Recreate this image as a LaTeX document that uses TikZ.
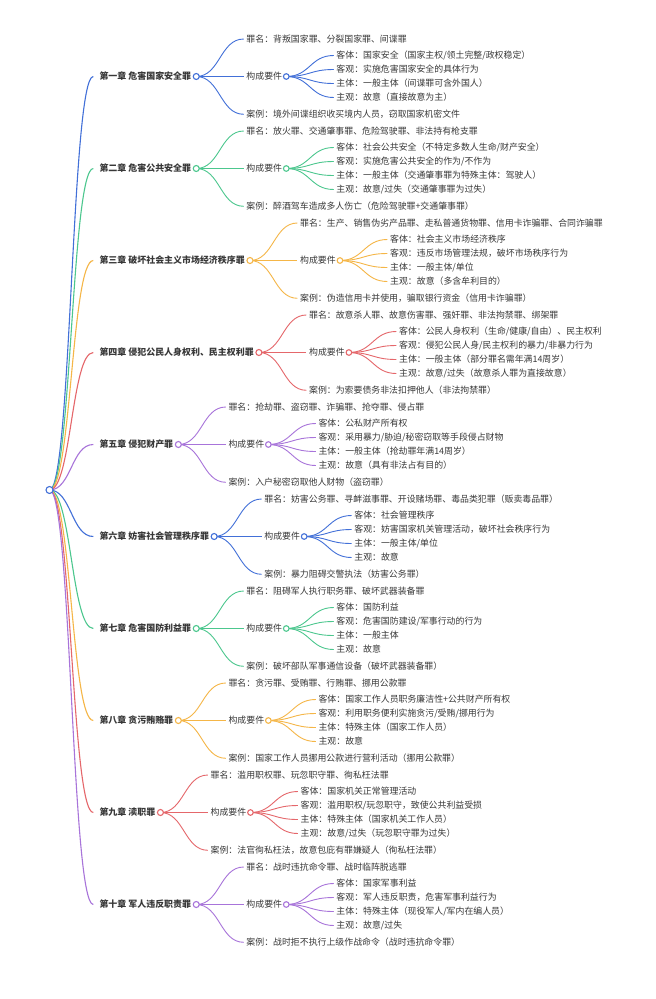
\documentclass[tikz,border=0pt]{standalone}
\usepackage{fontspec}
\setmainfont{Noto Sans CJK SC}
\usetikzlibrary{calc}
\definecolor{mblue}{HTML}{4270D8}
\definecolor{mgreen}{HTML}{4CC78E}
\definecolor{morange}{HTML}{F5B647}
\definecolor{mred}{HTML}{E5676B}
\definecolor{mpurple}{HTML}{A874DA}
\definecolor{txt}{HTML}{383838}
\colorlet{col1}{mblue}
\colorlet{col2}{mgreen}
\colorlet{col3}{morange}
\colorlet{col4}{mred}
\colorlet{col5}{mpurple}
\colorlet{col6}{mblue}
\colorlet{col7}{mgreen}
\colorlet{col8}{morange}
\colorlet{col9}{mred}
\colorlet{col10}{mpurple}
\tikzset{
  chap/.style={anchor=west, inner sep=0pt, text=txt, font=\fontsize{8.95}{10}\selectfont\bfseries},
  leaf/.style={anchor=west, inner sep=0pt, text=txt, font=\fontsize{8.9}{10}\selectfont},
  dot/.style={circle, draw=#1, fill=white, line width=1.1pt, minimum size=6pt, inner sep=0pt},
}
\newcommand\mmlink[4][0.9pt]{%
  \draw[draw=#2, line width=#1] let \p1=(#3), \p2=(#4) in
    (\p1) .. controls ({(\x1+\x2)/2},\y1) and ({(\x1+\x2)/2},\y2) .. (\p2);}
\newcommand\mmchap[8]{%
  \pgfmathsetmacro\Ly{76.5+92*(#1-1)}%
  \node[chap] (c#1) at (99.3,\Ly) {#2};
  \coordinate (c#1i) at (93.3,\Ly);
  \coordinate (c#1o) at ([xshift=5pt]c#1.east);
  \coordinate (z#1i) at ($(c#1o)+(47.5,-37.5)$);
  \node[leaf] (z#1) at ([xshift=2.5pt]z#1i) {#3};
  \coordinate (g#1i) at ($(c#1o)+(47.5,0)$);
  \node[leaf] (g#1) at ([xshift=2.5pt]g#1i) {构成要件};
  \coordinate (g#1o) at ($(g#1i)+(42.5,0)$);
  \coordinate (ka#1i) at ($(g#1o)+(47.5,-21)$);
  \node[leaf] (ka#1) at ([xshift=2.5pt]ka#1i) {#4};
  \coordinate (kb#1i) at ($(g#1o)+(47.5,-7)$);
  \node[leaf] (kb#1) at ([xshift=2.5pt]kb#1i) {#5};
  \coordinate (kc#1i) at ($(g#1o)+(47.5,7)$);
  \node[leaf] (kc#1) at ([xshift=2.5pt]kc#1i) {#6};
  \coordinate (kd#1i) at ($(g#1o)+(47.5,21)$);
  \node[leaf] (kd#1) at ([xshift=2.5pt]kd#1i) {#7};
  \coordinate (a#1i) at ($(c#1o)+(47.5,37.8)$);
  \node[leaf] (a#1) at ([xshift=2.5pt]a#1i) {#8};
  \mmlink[1.1pt]{col#1}{root}{c#1i}
  \mmlink{col#1}{c#1o}{z#1i}
  \mmlink{col#1}{c#1o}{g#1i}
  \mmlink{col#1}{c#1o}{a#1i}
  \mmlink{col#1}{g#1o}{ka#1i}
  \mmlink{col#1}{g#1o}{kb#1i}
  \mmlink{col#1}{g#1o}{kc#1i}
  \mmlink{col#1}{g#1o}{kd#1i}
  \node[dot=col#1] (c#1d) at (c#1o) {};
  \node[dot=col#1, minimum size=5.6pt] (g#1d) at (g#1o) {};
}
\begin{document}
\begin{tikzpicture}[x=1pt,y=-1pt]
\useasboundingbox[fill=white] (0,0) rectangle (656,999);
\coordinate (root) at (49.5,490);
\mmchap{1}{第一章 危害国家安全罪}{罪名：背叛国家罪、分裂国家罪、间谍罪}{客体：国家安全（国家主权/领土完整/政权稳定）}{客观：实施危害国家安全的具体行为}{主体：一般主体（间谍罪可含外国人）}{主观：故意（直接故意为主）}{案例：境外间谍组织收买境内人员，窃取国家机密文件}
\mmchap{2}{第二章 危害公共安全罪}{罪名：放火罪、交通肇事罪、危险驾驶罪、非法持有枪支罪}{客体：社会公共安全（不特定多数人生命/财产安全）}{客观：实施危害公共安全的作为/不作为}{主体：一般主体（交通肇事罪为特殊主体：驾驶人）}{主观：故意/过失（交通肇事罪为过失）}{案例：醉酒驾车造成多人伤亡（危险驾驶罪+交通肇事罪）}
\mmchap{3}{第三章 破坏社会主义市场经济秩序罪}{罪名：生产、销售伪劣产品罪、走私普通货物罪、信用卡诈骗罪、合同诈骗罪}{客体：社会主义市场经济秩序}{客观：违反市场管理法规，破坏市场秩序行为}{主体：一般主体/单位}{主观：故意（多含牟利目的）}{案例：伪造信用卡并使用，骗取银行资金（信用卡诈骗罪）}
\mmchap{4}{第四章 侵犯公民人身权利、民主权利罪}{罪名：故意杀人罪、故意伤害罪、强奸罪、非法拘禁罪、绑架罪}{客体：公民人身权利（生命/健康/自由）、民主权利}{客观：侵犯公民人身/民主权利的暴力/非暴力行为}{主体：一般主体（部分罪名需年满14周岁）}{主观：故意/过失（故意杀人罪为直接故意）}{案例：为索要债务非法扣押他人（非法拘禁罪）}
\mmchap{5}{第五章 侵犯财产罪}{罪名：抢劫罪、盗窃罪、诈骗罪、抢夺罪、侵占罪}{客体：公私财产所有权}{客观：采用暴力/胁迫/秘密窃取等手段侵占财物}{主体：一般主体（抢劫罪年满14周岁）}{主观：故意（具有非法占有目的）}{案例：入户秘密窃取他人财物（盗窃罪）}
\mmchap{6}{第六章 妨害社会管理秩序罪}{罪名：妨害公务罪、寻衅滋事罪、开设赌场罪、毒品类犯罪（贩卖毒品罪）}{客体：社会管理秩序}{客观：妨害国家机关管理活动，破坏社会秩序行为}{主体：一般主体/单位}{主观：故意}{案例：暴力阻碍交警执法（妨害公务罪）}
\mmchap{7}{第七章 危害国防利益罪}{罪名：阻碍军人执行职务罪、破坏武器装备罪}{客体：国防利益}{客观：危害国防建设/军事行动的行为}{主体：一般主体}{主观：故意}{案例：破坏部队军事通信设备（破坏武器装备罪）}
\mmchap{8}{第八章 贪污贿赂罪}{罪名：贪污罪、受贿罪、行贿罪、挪用公款罪}{客体：国家工作人员职务廉洁性+公共财产所有权}{客观：利用职务便利实施贪污/受贿/挪用行为}{主体：特殊主体（国家工作人员）}{主观：故意}{案例：国家工作人员挪用公款进行营利活动（挪用公款罪）}
\mmchap{9}{第九章 渎职罪}{罪名：滥用职权罪、玩忽职守罪、徇私枉法罪}{客体：国家机关正常管理活动}{客观：滥用职权/玩忽职守，致使公共利益受损}{主体：特殊主体（国家机关工作人员）}{主观：故意/过失（玩忽职守罪为过失）}{案例：法官徇私枉法，故意包庇有罪嫌疑人（徇私枉法罪）}
\mmchap{10}{第十章 军人违反职责罪}{罪名：战时违抗命令罪、战时临阵脱逃罪}{客体：国家军事利益}{客观：军人违反职责，危害军事利益行为}{主体：特殊主体（现役军人/军内在编人员）}{主观：故意/过失}{案例：战时拒不执行上级作战命令（战时违抗命令罪）}
\node[dot=mblue, minimum size=7pt] (rootd) at (root) {};
\end{tikzpicture}
\end{document}
